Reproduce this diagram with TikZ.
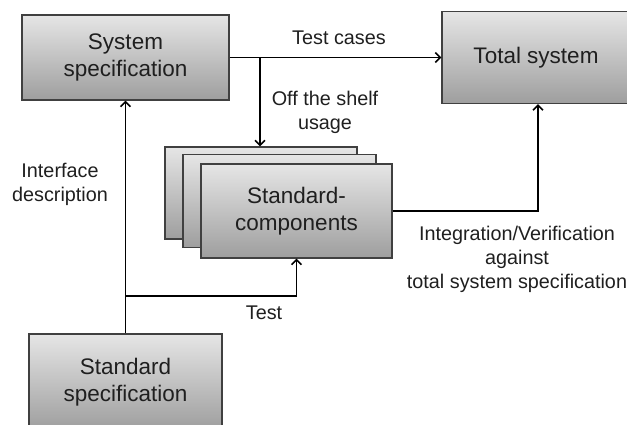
\documentclass[tikz,border=0pt]{standalone}
\usepackage{fontspec}
\setmainfont{Liberation Sans}
\usetikzlibrary{arrows.meta,positioning}
\begin{document}
\begin{tikzpicture}[x=1pt,y=1pt,
  box/.style={rectangle, draw=black!75, line width=1.2pt, top color=black!10, bottom color=black!38,
    align=center, font=\fontsize{22.5}{27}\selectfont, text=black!88, inner sep=0pt},
  lbl/.style={align=center, font=\fontsize{19.8}{24}\selectfont, text=black!88, inner sep=0pt},
  arr/.style={line width=1.6pt, -{Straight Barb[length=5pt,width=10pt,line width=1.6pt]}}]
\useasboundingbox (0,0) rectangle (627,425);
\node (sysspec) at (125.5,367.5) [box, minimum width=207, minimum height=85]{System\\specification};
\node (total) at (536,367.5) [box, minimum width=188, minimum height=92]{Total system};
\node (stdspec) at (125.5,43) [box, minimum width=193, minimum height=96]{Standard\\specification};
\node (comp1) at (261,232) [box, minimum width=192, minimum height=92]{};
\node (comp2) at (279.5,224) [box, minimum width=193, minimum height=93]{};
\node (comp3) at (296.5,214) [box, minimum width=191, minimum height=94]{Standard-\\components};
\coordinate (jshelf) at (260,367.5);
\coordinate (jtest) at (125.5,129);
\draw[arr] (sysspec.east) -- (sysspec.east -| total.west);
\draw[arr] (jshelf) -- (jshelf |- comp1.north);
\draw[arr] (stdspec.north) -- (sysspec.south);
\draw[arr] (jtest) -| (comp3.south);
\draw[arr] (comp3.east) -| ([xshift=2pt]total.south);
\node (ltestcases) at (339,387) [lbl]{Test cases};
\node (lshelf) at (325,313) [lbl]{Off the shelf\\usage};
\node (linterface) at (60,241) [lbl]{Interface\\description};
\node (ltest) at (264,112) [lbl]{Test};
\node (lintegr) at (517,166) [lbl]{Integration/Verification\\against\\total system specification};
\end{tikzpicture}
\end{document}
